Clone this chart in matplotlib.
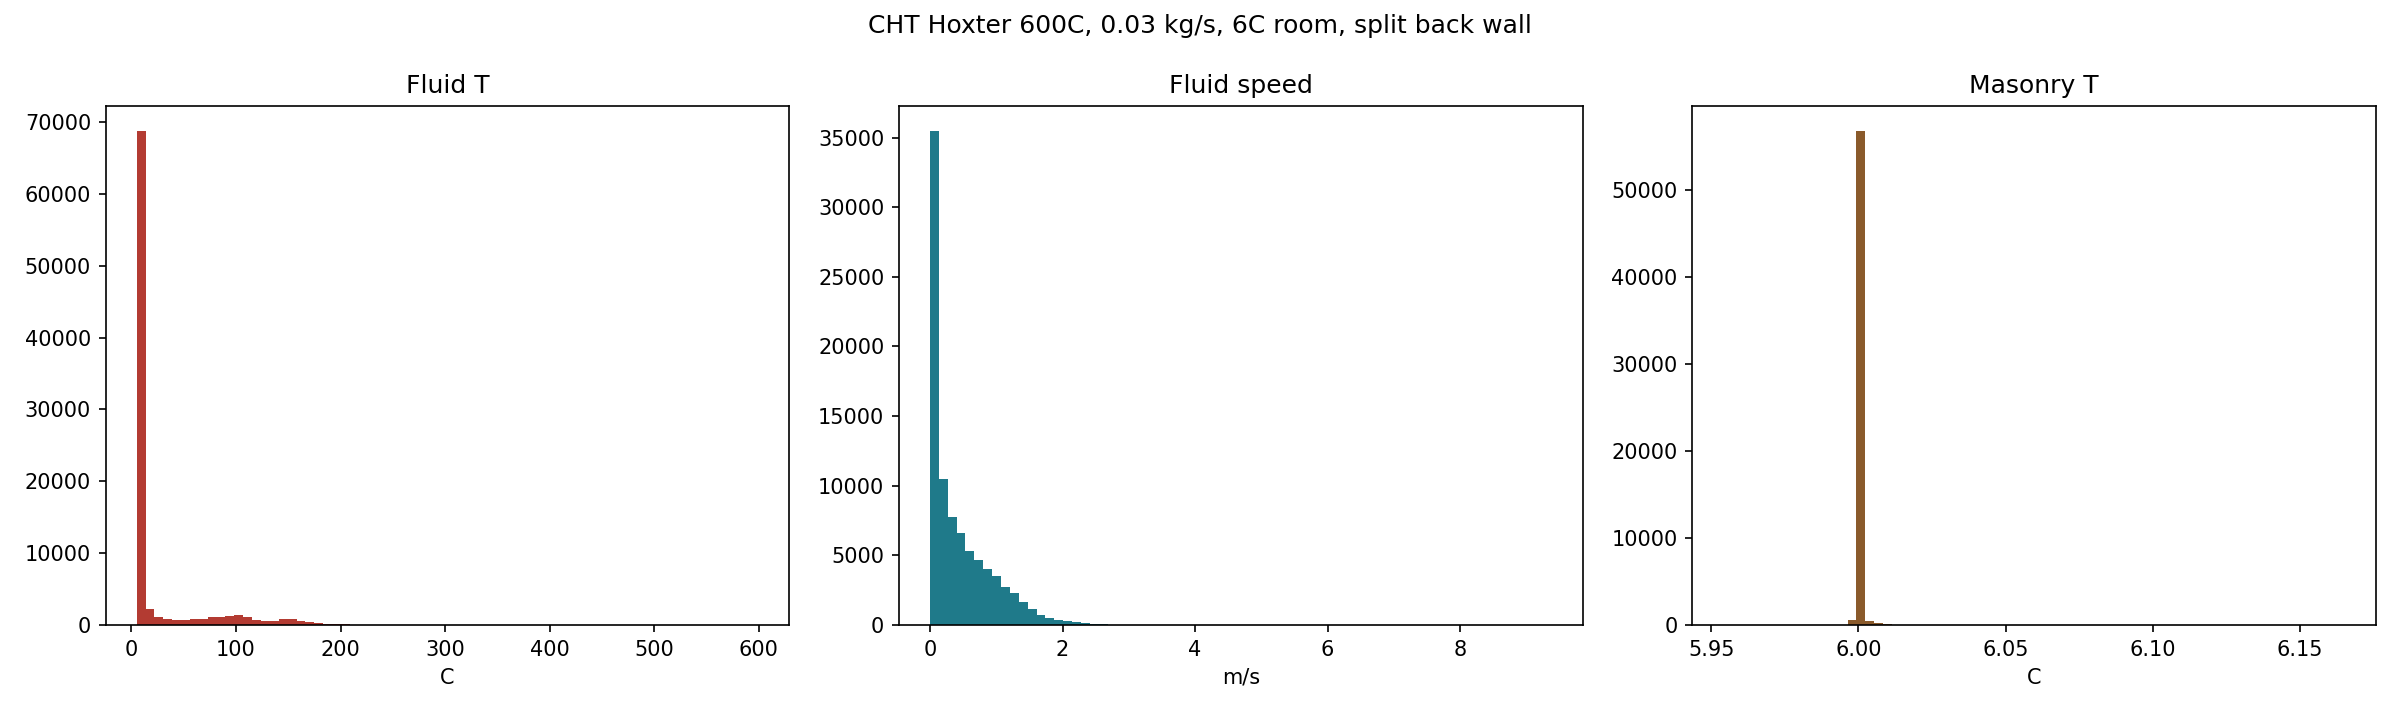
import numpy as np
import matplotlib
matplotlib.use("Agg")
import matplotlib.pyplot as plt

# bin counts (70 bins each)
fluid_t_range = (5.0, 599.5)
fluid_t_counts = [68800, 2260, 1060, 870, 720, 720, 870, 870, 1060, 1060,
                  1200, 1350, 1060, 720, 620, 620, 770, 770, 580, 380,
                  240, 190, 190, 190, 60, 40, 30, 20, 15, 10] + [5] * 40

speed_range = (0.0, 9.38)
speed_counts = [35500, 10470, 7720, 6580, 5330, 4690, 4040, 3520, 2750, 2260,
                1660, 1170, 740, 520, 370, 300, 220, 150, 75, 40,
                25, 15, 10] + [4] * 47

masonry_range = (5.9541, 6.1652)
masonry_counts = [0] * 12 + [20, 30, 570, 56800, 440, 180, 60, 30, 30, 10] + [0] * 48

panels = [
    ("Fluid T", "C", fluid_t_range, fluid_t_counts, "#b33b32"),
    ("Fluid speed", "m/s", speed_range, speed_counts, "#1f7a8a"),
    ("Masonry T", "C", masonry_range, masonry_counts, "#8a5a2b"),
]

fig, axes = plt.subplots(1, 3, figsize=(16, 4.8), dpi=150)
for ax, (title, unit, rng, counts, color) in zip(axes, panels):
    edges = np.linspace(rng[0], rng[1], len(counts) + 1)
    ax.stairs(counts, edges, fill=True, color=color)
    ax.set_xlim(rng[0] - 0.05 * (rng[1] - rng[0]), rng[1] + 0.05 * (rng[1] - rng[0]))
    ax.set_ylim(0, max(counts) * 1.05)
    ax.set_title(title, fontsize=12)
    ax.set_xlabel(unit)

fig.suptitle("CHT Hoxter 600C, 0.03 kg/s, 6C room, split back wall", fontsize=12)
fig.subplots_adjust(left=0.044, right=0.99, top=0.853, bottom=0.132, wspace=0.16)
fig.savefig("out.png", dpi=150)
